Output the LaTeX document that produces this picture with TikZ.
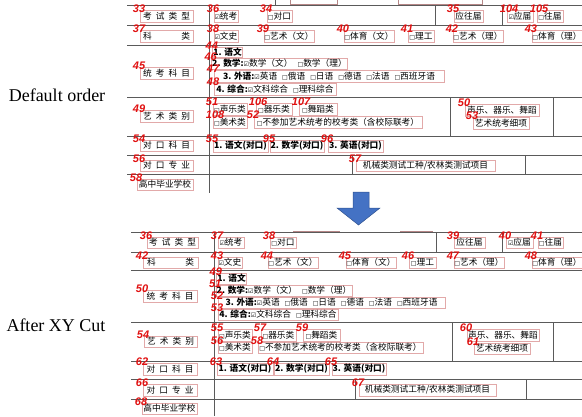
\documentclass[tikz,border=0pt]{standalone}
\usepackage{fontspec}
\setmainfont{Noto Sans CJK SC}
\newfontfamily\symf{DejaVu Sans}
\newfontfamily\labf{Liberation Sans}
\newfontfamily\capf{Liberation Serif}
\definecolor{boxc}{HTML}{E2A9A9}
\definecolor{numc}{HTML}{E01010}
\definecolor{linec}{HTML}{5A5A5A}
\definecolor{arrf}{HTML}{4472C4}
\definecolor{arrd}{HTML}{2F528F}
\newcommand\myun{{\symf\fontsize{6}{6}\selectfont □}}
\newcommand\mychk{{\symf\fontsize{6}{6}\selectfont ☑}}
\newcommand\gp{\hspace{5pt}}
\newcommand\spr[1]{\makebox[47pt]{#1}}
\newcommand\lbx[7]{%
  \node[bx, minimum width={#5-#3}, minimum height={#6-#4}] (#1) at ({(#3+#5)/2},{(#4+#6)/2}) {#7};
  \node[num] (#1n) at ([xshift=-7pt,yshift=-2.5pt]#1.north west) {#2};
}
\begin{document}
\begin{tikzpicture}[x=1pt,y=-1pt,
  bx/.style={draw=boxc, line width=0.5pt, inner sep=0.6pt, font=\fontsize{8.7}{9}\selectfont},
  num/.style={anchor=base west, inner sep=0pt, text=numc, font=\labf\bfseries\itshape\fontsize{11}{11}\selectfont},
  tl/.style={draw=linec, line width=0.8pt},
  frag/.style={draw=boxc!80!black, line width=0.6pt},
  captxt/.style={font=\capf\fontsize{18}{18}\selectfont}]
\useasboundingbox (0,0) rectangle (582,416);

% captions
\node[captxt] (cap1) at (57,95) {Default order};
\node[captxt] (cap2) at (56,325) {After XY Cut};

% ---------------- table 1 lines ----------------
\foreach \yy in {5,25,45,97,136,155,174} {\draw[tl] (127,\yy) -- (582,\yy);}
\draw[tl] (209,5) -- (209,193);
\draw[tl] (435,5) -- (435,25);
\draw[tl] (502,5) -- (502,25);
\draw[tl] (450,97) -- (450,136);
\draw[tl] (553,97) -- (553,136);
\draw[tl] (352,155) -- (352,174);
\draw[tl] (525,155) -- (525,174);
% fragments above
\draw[tl] (275,0) -- (275,5);
\draw[frag] (290,0) -- (290,4) -- (337,4) -- (337,0);
\draw[frag] (398,0) -- (398,4) -- (482,4) -- (482,0);

% ---------------- table 1 boxes ----------------
\lbx{a33}{33}{140}{10}{193}{22}{\spr{考\hfill 试\hfill 类\hfill 型}}
\lbx{a36}{36}{214}{10}{238}{22}{\mychk 统考}
\lbx{a34}{34}{267}{10}{292}{22}{\myun 对口}
\lbx{a35}{35}{454}{10}{483}{22}{应往届}
\lbx{a104}{104}{507}{10}{533}{22}{\mychk 应届}
\lbx{a105}{105}{537}{10}{563}{22}{\myun 往届}

\lbx{a37}{37}{140}{30}{193}{42}{\spr{科\hfill 类}}
\lbx{a38}{38}{214}{30}{238}{42}{\mychk 文史}
\lbx{a39}{39}{266}{30}{312}{42}{\myun 艺术（文）}
\lbx{a40}{40}{345}{30}{393}{42}{\myun 体育（文）}
\lbx{a41}{41}{408}{30}{434}{42}{\myun 理工}
\lbx{a42}{42}{454}{30}{502}{42}{\myun 艺术（理）}
\lbx{a43}{43}{534}{30}{580}{42}{\myun 体育（理）}

\lbx{a45}{45}{140}{67}{193}{79}{\spr{统\hfill 考\hfill 科\hfill 目}}
\lbx{a44}{44}{214}{47}{241}{57}{\textbf{1. 语文}}
\lbx{a46}{46}{214}{58}{345}{69}{\textbf{2. 数学:}\mychk 数学（文）\gp\myun 数学（理）}
\lbx{a47}{47}{214}{70}{444}{82}{\textbf{3. 外语:}\mychk 英语\gp\myun 俄语\gp\myun 日语\gp\myun 德语\gp\myun 法语\gp\myun 西班牙语}
\lbx{a48}{48}{214}{83}{336}{95}{\textbf{4. 综合:}\mychk 文科综合\gp\myun 理科综合}

\lbx{a49}{49}{140}{110}{193}{122}{\spr{艺\hfill 术\hfill 类\hfill 别}}
\lbx{a51}{51}{213}{103}{247}{115}{\myun 声乐类}
\lbx{a106}{106}{256}{103}{292}{115}{\myun 器乐类}
\lbx{a107}{107}{299}{103}{337}{115}{\myun 舞蹈类}
\lbx{a108}{108}{213}{116}{247}{128}{\myun 美术类}
\lbx{a52}{52}{254}{116}{422}{128}{\myun 不参加艺术统考的校考类（含校际联考）}
\lbx{a50}{50}{465}{104}{539}{116}{声乐、器乐、舞蹈}
\lbx{a53}{53}{473}{117}{529}{129}{艺术统考细项}

\lbx{a54}{54}{140}{140}{193}{151}{\spr{对\hfill 口\hfill 科\hfill 目}}
\lbx{a55}{55}{213}{140}{268}{152}{\textbf{1. 语文(对口)}}
\lbx{a95}{95}{270}{140}{324}{152}{\textbf{2. 数学(对口)}}
\lbx{a96}{96}{328}{140}{383}{152}{\textbf{3. 英语(对口)}}

\lbx{a56}{56}{140}{160}{193}{171}{\spr{对\hfill 口\hfill 专\hfill 业}}
\lbx{a57}{57}{356}{160}{495}{171}{机械类测试工种/农林类测试项目}
\lbx{a58}{58}{137}{179}{193}{190}{高中毕业学校}

% ---------------- arrow ----------------
\draw[fill=arrf, draw=arrd, line width=0.5pt] (353,192) -- (369,192) -- (369,208) -- (380,208) -- (358.5,225) -- (337,208) -- (353,208) -- cycle;

% ---------------- table 2 lines ----------------
\foreach \yy in {232,252,270,322,361,379,399} {\draw[tl] (131,\yy) -- (582,\yy);}
\draw[tl] (214,232) -- (214,416);
\draw[tl] (436,232) -- (436,252);
\draw[tl] (502,232) -- (502,252);
\draw[tl] (452,322) -- (452,361);
\draw[tl] (553,322) -- (553,361);
\draw[tl] (355,379) -- (355,399);
\draw[tl] (526,379) -- (526,399);
\draw[frag] (293,231) -- (340,231);
\draw[frag] (400,231) -- (433,231);

% ---------------- table 2 boxes ----------------
\lbx{b36}{36}{147}{237}{198}{248}{\spr{考\hfill 试\hfill 类\hfill 型}}
\lbx{b37}{37}{218}{237}{244}{248}{\mychk 统考}
\lbx{b38}{38}{270}{237}{296}{248}{\myun 对口}
\lbx{b39}{39}{454}{237}{485}{248}{应往届}
\lbx{b40}{40}{506}{237}{533}{248}{\mychk 应届}
\lbx{b41}{41}{538}{237}{563}{248}{\myun 往届}

\lbx{b42}{42}{143}{257}{198}{268}{\spr{科\hfill 类}}
\lbx{b43}{43}{218}{257}{242}{268}{\mychk 文史}
\lbx{b44}{44}{270}{257}{316}{268}{\myun 艺术（文）}
\lbx{b45}{45}{347}{257}{395}{268}{\myun 体育（文）}
\lbx{b46}{46}{409}{257}{436}{268}{\myun 理工}
\lbx{b47}{47}{456}{257}{502}{268}{\myun 艺术（理）}
\lbx{b48}{48}{534}{257}{580}{268}{\myun 体育（理）}

\lbx{b50}{50}{143}{290}{197}{302}{\spr{统\hfill 考\hfill 科\hfill 目}}
\lbx{b49}{49}{218}{273}{245}{284}{\textbf{1. 语文}}
\lbx{b51}{51}{218}{285}{350}{296}{\textbf{2. 数学:}\mychk 数学（文）\gp\myun 数学（理）}
\lbx{b52}{52}{218}{297}{445}{308}{\textbf{3. 外语:}\mychk 英语\gp\myun 俄语\gp\myun 日语\gp\myun 德语\gp\myun 法语\gp\myun 西班牙语}
\lbx{b53}{53}{218}{309}{338}{320}{\textbf{4. 综合:}\mychk 文科综合\gp\myun 理科综合}

\lbx{b54}{54}{144}{336}{197}{347}{\spr{艺\hfill 术\hfill 类\hfill 别}}
\lbx{b55}{55}{218}{329}{252}{341}{\myun 声乐类}
\lbx{b57}{57}{261}{329}{296}{341}{\myun 器乐类}
\lbx{b59}{59}{303}{329}{340}{341}{\myun 舞蹈类}
\lbx{b56}{56}{218}{342}{252}{353}{\myun 美术类}
\lbx{b58}{58}{258}{342}{423}{353}{\myun 不参加艺术统考的校考类（含校际联考）}
\lbx{b60}{60}{467}{329}{539}{341}{声乐、器乐、舞蹈}
\lbx{b61}{61}{474}{343}{530}{354}{艺术统考细项}

\lbx{b62}{62}{143}{363}{197}{375}{\spr{对\hfill 口\hfill 科\hfill 目}}
\lbx{b63}{63}{217}{363}{273}{375}{\textbf{1. 语文(对口)}}
\lbx{b64}{64}{274}{363}{329}{375}{\textbf{2. 数学(对口)}}
\lbx{b65}{65}{332}{363}{386}{375}{\textbf{3. 英语(对口)}}

\lbx{b66}{66}{143}{384}{197}{396}{\spr{对\hfill 口\hfill 专\hfill 业}}
\lbx{b67}{67}{359}{384}{496}{396}{机械类测试工种/农林类测试项目}
\lbx{b68}{68}{142}{403}{197}{414}{高中毕业学校}
\end{tikzpicture}
\end{document}
